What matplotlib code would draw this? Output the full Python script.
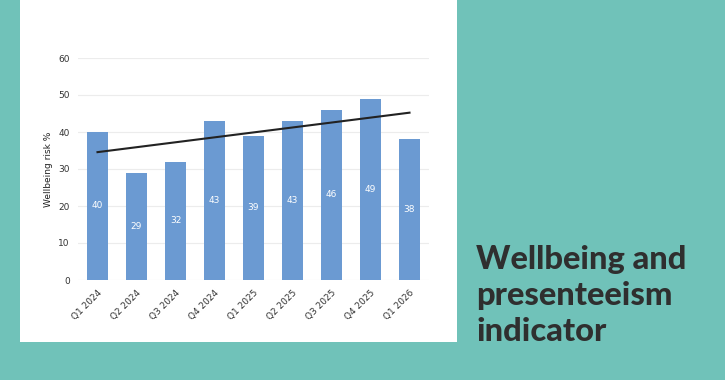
#!/usr/bin/env python
"""
Wellbeing risk by quarter, bars with a linear trend line.
"""
import matplotlib.pyplot as plt
from matplotlib.patches import Rectangle
import numpy as np

quarters = ['Q1 2024', 'Q2 2024', 'Q3 2024', 'Q4 2024', 'Q1 2025',
            'Q2 2025', 'Q3 2025', 'Q4 2025', 'Q1 2026']
risk = [40, 29, 32, 43, 39, 43, 46, 49, 38]
title_lines = ['Wellbeing and', 'presenteeism', 'indicator']

TEAL = '#70c2b9'
BAR = '#6b9ad2'


def main():
    fig = plt.figure(figsize=(7.25, 3.8), dpi=100, facecolor=TEAL)
    fig.patches.append(Rectangle((20 / 725, 38 / 380), 437 / 725, 342 / 380,
                                 transform=fig.transFigure,
                                 facecolor='white', edgecolor='none',
                                 zorder=-5))

    ax = fig.add_axes([78 / 725, 100 / 380, 351 / 725, 222 / 380])
    ax.set_zorder(2)
    ax.set_facecolor('white')
    x = np.arange(len(quarters))
    ax.bar(x, risk, width=0.52, color=BAR, zorder=2)
    for xi, value in zip(x, risk):
        ax.text(xi, value / 2, str(value), color='white', fontsize=6.5,
                ha='center', va='center', zorder=3)

    slope, intercept = np.polyfit(x, risk, 1)
    ax.plot(x, slope * x + intercept, color='#222222', linewidth=1.5,
            zorder=4)

    ax.set_xlim(-0.5, len(quarters) - 0.5)
    ax.set_ylim(0, 60)
    ax.set_yticks(range(0, 61, 10))
    ax.set_xticks(x)
    ax.set_xticklabels(quarters, rotation=45, ha='right',
                       rotation_mode='anchor', fontsize=6.5, color='#333333')
    ax.tick_params(axis='both', length=0, labelsize=6.5,
                   labelcolor='#333333')
    ax.tick_params(axis='y', pad=6)
    ax.tick_params(axis='x', pad=6)
    ax.grid(axis='y', color='#ececec', linewidth=0.8, zorder=0)
    for spine in ax.spines.values():
        spine.set_visible(False)
    ax.set_ylabel('Wellbeing risk %', fontsize=6.5, color='#222222',
                  labelpad=4)

    for i, line in enumerate(title_lines):
        fig.text(476 / 725, 1 - (269 + 36 * i) / 380, line,
                 fontsize=23.5, fontweight='black',
                 family=['Lato', 'DejaVu Sans'],
                 color='#2f2f2f', ha='left', va='baseline')

    fig.savefig('out.png', dpi=100, facecolor=TEAL)


if __name__ == '__main__':
    main()
